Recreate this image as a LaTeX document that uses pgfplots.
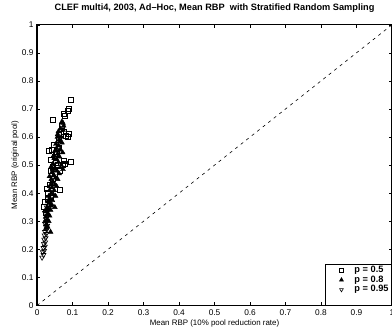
\documentclass[border=0pt]{standalone}
\usepackage{pgfplots}
\pgfplotsset{compat=1.18}
\usepackage{fontspec}
\setmainfont{Liberation Sans}
\begin{document}
\begin{tikzpicture}
\begin{axis}[
  scale only axis,
  width=354pt, height=280pt,
  xmin=0, xmax=1, ymin=0, ymax=1,
  xtick={0,0.1,...,1.0}, ytick={0,0.1,...,1.0},
  xticklabels={0,0.1,0.2,0.3,0.4,0.5,0.6,0.7,0.8,0.9,1},
  yticklabels={0,0.1,0.2,0.3,0.4,0.5,0.6,0.7,0.8,0.9,1},
  tick align=inside, major tick length=3pt,
  axis line style={line width=1.3pt},
  tick style={line width=0.5pt, black},
  tick label style={font=\fontsize{8.3}{9}\selectfont},
  xticklabel style={yshift=-1pt},
  /pgf/number format/assume math mode=true,
  xlabel={Mean RBP (10\% pool reduction rate)},
  ylabel={Mean RBP (original pool)},
  label style={font=\fontsize{7.9}{8}\selectfont},
  xlabel style={at={(axis description cs:0.5,-0.0625)}, anchor=center},
  ylabel style={at={(axis description cs:-0.062,0.5)}, anchor=center},
  title={\bfseries CLEF multi4, 2003, Ad--Hoc, Mean RBP\ \ with Stratified Random Sampling},
  title style={font=\fontsize{9.2}{10}\selectfont, at={(axis description cs:0.5,1.038)}, anchor=center},
  legend style={at={(1,0)}, anchor=south east, draw=black, line width=0.8pt,
    font=\fontsize{9.2}{9}\selectfont\bfseries, row sep=0.5pt, inner xsep=1pt, inner ysep=1pt,
    nodes={text height=6.2pt, text depth=2pt, inner ysep=0.5pt, inner xsep=2pt}},
  legend cell align=left,
  legend image code/.code={\path[draw=none,fill=none] (0pt,-0.5pt) rectangle (26pt,0.5pt); \draw[#1, mark size=2.1pt] plot[only marks] coordinates {(15pt,0pt)};},
]
\addplot[only marks, mark=square, mark size=2.5pt, black, line width=0.6pt] coordinates {
(0.095,0.733)(0.088,0.700)(0.086,0.695)(0.075,0.683)(0.078,0.675)(0.045,0.660)
(0.075,0.618)(0.089,0.612)(0.086,0.602)(0.068,0.612)(0.080,0.605)(0.094,0.513)
(0.075,0.516)(0.073,0.500)(0.078,0.505)(0.033,0.552)(0.042,0.555)(0.047,0.573)
(0.038,0.480)(0.064,0.412)(0.027,0.415)(0.029,0.400)(0.019,0.350)(0.022,0.370)
(0.050,0.530)(0.055,0.540)(0.040,0.520)(0.060,0.560)(0.058,0.500)(0.050,0.470)
(0.045,0.450)(0.035,0.430)(0.030,0.380)(0.025,0.330)(0.040,0.385)(0.062,0.590)
(0.070,0.640)(0.053,0.508)(0.065,0.480)(0.044,0.495)
};
\addlegendentry{p = 0.5}
\addplot[only marks, mark=triangle*, mark size=2.8pt, black] coordinates {
(0.073,0.650)(0.075,0.640)(0.070,0.655)(0.073,0.625)(0.058,0.610)(0.068,0.600)
(0.065,0.585)(0.062,0.590)(0.070,0.580)(0.060,0.570)(0.055,0.560)(0.065,0.555)
(0.072,0.545)(0.050,0.550)(0.058,0.540)(0.063,0.530)(0.048,0.525)(0.055,0.520)
(0.060,0.510)(0.068,0.500)(0.073,0.485)(0.045,0.505)(0.040,0.495)(0.050,0.490)
(0.056,0.480)(0.062,0.470)(0.042,0.475)(0.047,0.465)(0.052,0.455)(0.058,0.450)
(0.040,0.450)(0.045,0.440)(0.050,0.430)(0.055,0.425)(0.038,0.430)(0.042,0.420)
(0.048,0.410)(0.035,0.410)(0.040,0.400)(0.046,0.395)(0.052,0.390)(0.033,0.390)
(0.037,0.380)(0.043,0.375)(0.030,0.370)(0.035,0.365)(0.041,0.360)(0.050,0.350)
(0.028,0.350)(0.032,0.345)(0.038,0.340)(0.026,0.335)(0.030,0.325)(0.035,0.320)
(0.024,0.315)(0.028,0.305)(0.033,0.300)(0.022,0.300)(0.026,0.290)(0.030,0.280)
(0.038,0.262)(0.025,0.275)(0.060,0.620)(0.066,0.630)(0.053,0.575)(0.047,0.535)
(0.035,0.460)(0.057,0.600)(0.044,0.485)(0.039,0.355)
};
\addlegendentry{p = 0.8}
\addplot[only marks, mark=triangle, mark options={rotate=180}, mark size=2.8pt, black, line width=0.6pt] coordinates {
(0.014,0.171)(0.018,0.180)(0.016,0.190)(0.020,0.195)(0.018,0.205)(0.022,0.210)
(0.019,0.220)(0.023,0.225)(0.020,0.235)(0.024,0.240)(0.021,0.250)(0.026,0.255)
(0.022,0.262)(0.027,0.270)(0.025,0.280)(0.029,0.285)(0.023,0.290)(0.028,0.300)
(0.026,0.310)(0.030,0.320)(0.022,0.330)(0.032,0.340)(0.027,0.350)(0.035,0.370)
};
\addlegendentry{p = 0.95}
\addlegendimage{empty legend}
\addlegendentry{}
\addplot[black, line width=0.6pt, forget plot, dash pattern=on 3pt off 4pt] coordinates {(0,0)(1,1)};
\end{axis}
\pgfresetboundingbox
\path[use as bounding box] ([xshift=-37pt,yshift=-24.3pt]current axis.south west) rectangle ([yshift=24.7pt]current axis.north east);
\end{tikzpicture}
\end{document}
